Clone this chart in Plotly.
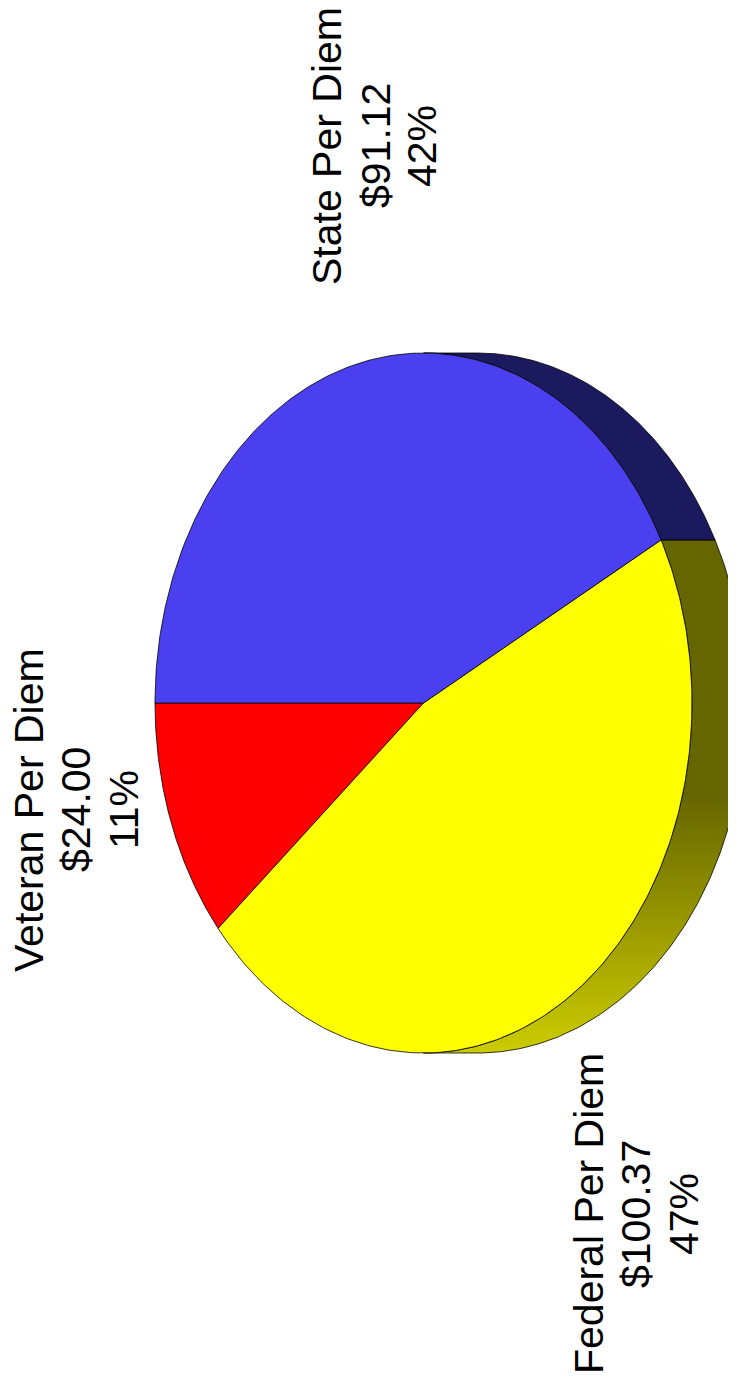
import numpy as np
import plotly.graph_objects as go

# ---- data ----
categories = ["Veteran Per Diem", "Federal Per Diem", "State Per Diem"]
values = [24.00, 100.37, 91.12]
face_colors = ["#FF0000", "#FFFF00", "#4B40F0"]
side_colors = ["#800000", None, "#1C1A5E"]   # None -> gradient side

W, H = 736, 1385
PAD = 8  # default body margin of the page
cx, cy, rx, ry = 423.5, 703.0, 268.5, 350.0
dx = 54.0
start = 180.0  # parametric degrees (y pointing down), sweep counter-clockwise on screen

total = sum(values)
shares = [v / total for v in values]

# slice angle ranges (decreasing t)
ranges = []
t0 = start
for s in shares:
    t1 = t0 - s * 360.0
    ranges.append((t1, t0))
    t0 = t1

def arc(a, b, shift=0.0, n=200):
    t = np.radians(np.linspace(a, b, n))
    return cx + shift + rx * np.cos(t), cy + ry * np.sin(t)

fig = go.Figure()

# ---- sides (visible only on the right half: t in [-90, 90]) ----
for (a, b), sc in zip(ranges, side_colors):
    lo, hi = max(a, -90.0), min(b, 90.0)
    if hi <= lo:
        continue
    bx, by = arc(lo, hi, dx)
    fx, fy = arc(hi, lo, 0.0)
    xs = np.concatenate([bx, fx, bx[:1]])
    ys = np.concatenate([by, fy, by[:1]])
    kw = dict(x=xs, y=ys, mode="lines", fill="toself",
              line=dict(color="#000000", width=0.8), hoverinfo="skip", showlegend=False)
    if sc is None:
        kw["fillgradient"] = dict(type="vertical",
                                  colorscale=[[0, "#666600"], [0.5, "#666600"], [1, "#CCCC00"]],
                                  start=cy + ry * np.sin(np.radians(lo)), stop=cy + ry)
    else:
        kw["fillcolor"] = sc
    fig.add_trace(go.Scatter(**kw))

# ---- front faces ----
for (a, b), fc in zip(ranges, face_colors):
    ax_, ay_ = arc(a, b, 0.0)
    xs = np.concatenate([[cx], ax_, [cx]])
    ys = np.concatenate([[cy], ay_, [cy]])
    fig.add_trace(go.Scatter(x=xs, y=ys, mode="lines", fill="toself", fillcolor=fc,
                             line=dict(color="#000000", width=0.8),
                             hoverinfo="skip", showlegend=False))

# ---- labels (rotated text) ----
label_pos = {
    "Veteran Per Diem": ([29, 76, 124], 810),
    "Federal Per Diem": ([589, 636, 684], 1214),
    "State Per Diem": ([327, 376, 422], 146),
}
for name, v, s in zip(categories, values, shares):
    xs, yc = label_pos[name]
    lines = [name, "${:.2f}".format(v), "{:d}%".format(int(round(s * 100)))]
    for xl, txt in zip(xs, lines):
        fig.add_annotation(x=xl, y=yc, text=txt, showarrow=False, textangle=-90,
                           xref="x", yref="y", xanchor="center", yanchor="middle",
                           font=dict(family="Liberation Sans, Arial, sans-serif", size=41, color="#000000"))

fig.update_layout(
    width=W - PAD, height=H - PAD, margin=dict(l=0, r=0, t=0, b=0),
    paper_bgcolor="white", plot_bgcolor="white",
    xaxis=dict(range=[PAD, W], visible=False, fixedrange=True),
    yaxis=dict(range=[H, PAD], visible=False, fixedrange=True),
)

fig.write_html("out.html")
